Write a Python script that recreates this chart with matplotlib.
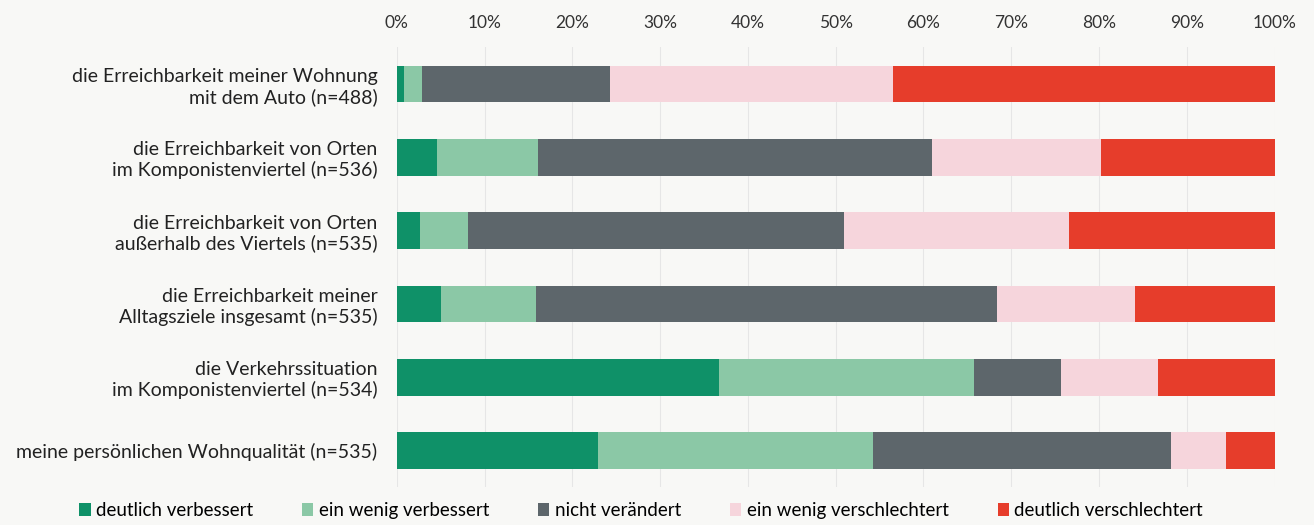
import matplotlib.pyplot as plt
import numpy as np

# categories (top to bottom)
categories = [
    "die Erreichbarkeit meiner Wohnung\nmit dem Auto (n=488)",
    "die Erreichbarkeit von Orten\nim Komponistenviertel (n=536)",
    "die Erreichbarkeit von Orten\naußerhalb des Viertels (n=535)",
    "die Erreichbarkeit meiner\nAlltagsziele insgesamt (n=535)",
    "die Verkehrssituation\nim Komponistenviertel (n=534)",
    "meine persönlichen Wohnqualität (n=535)",
]

# shares in percent
deutlich_verbessert = [0.8, 4.6, 2.6, 5.0, 36.7, 22.9]
wenig_verbessert = [2.1, 11.5, 5.5, 10.8, 29.0, 31.4]
nicht_veraendert = [21.4, 44.9, 42.8, 52.6, 10.0, 33.9]
wenig_verschlechtert = [32.2, 19.2, 25.7, 15.7, 11.0, 6.3]
deutlich_verschlechtert = [43.5, 19.8, 23.4, 15.9, 13.3, 5.5]

series = [
    ("deutlich verbessert", deutlich_verbessert, "#0f9168"),
    ("ein wenig verbessert", wenig_verbessert, "#8bc8a6"),
    ("nicht verändert", nicht_veraendert, "#5d666b"),
    ("ein wenig verschlechtert", wenig_verschlechtert, "#f6d5dc"),
    ("deutlich verschlechtert", deutlich_verschlechtert, "#e63d2b"),
]

tick_vals = np.arange(0, 101, 10)
tick_labels = [f"{v}%" for v in tick_vals]

plt.rcParams['font.family'] = ['Lato', 'DejaVu Sans']

fig = plt.figure(figsize=(13.14, 5.25), dpi=100, facecolor="#f8f8f6")
ax = fig.add_axes([0.302, 0.072, 0.668, 0.838], facecolor="#f8f8f6")

y = np.arange(len(categories))
left = np.zeros(len(categories))
for name, vals, col in series:
    ax.barh(y, vals, left=left, height=0.5, color=col, label=name)
    left += np.array(vals)

ax.set_xlim(0, 100)
ax.set_ylim(len(categories) - 0.5, -0.5)
ax.set_yticks(y)
ax.set_yticklabels(categories, fontsize=14, color="#222222")
ax.set_xticks(tick_vals)
ax.set_xticklabels(tick_labels, fontsize=12.5, color="#333333")
ax.xaxis.tick_top()
ax.tick_params(axis='x', length=0, pad=12)
ax.tick_params(axis='y', length=0, pad=14)
ax.grid(axis='x', color="#e6e6e6", linewidth=0.8)
ax.set_axisbelow(True)
for s in ax.spines.values():
    s.set_visible(False)

handles, labels = ax.get_legend_handles_labels()
fig.legend(handles, labels, loc='center', bbox_to_anchor=(0.488, 0.028), ncol=5,
           frameon=False, fontsize=13.5, handlelength=0.6, handleheight=0.7,
           handletextpad=0.3, columnspacing=2.6)

fig.savefig("out.png", dpi=100, facecolor=fig.get_facecolor())
